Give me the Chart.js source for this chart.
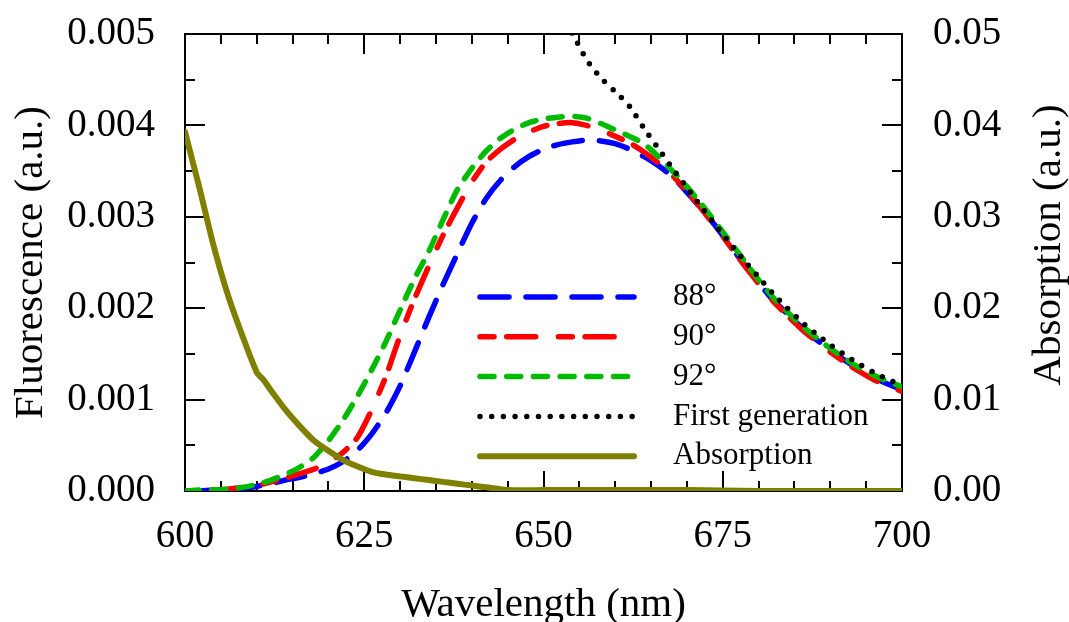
<!DOCTYPE html>
<html><head><meta charset="utf-8">
<script src="https://cdn.jsdelivr.net/npm/chart.js@4.4.1/dist/chart.umd.min.js"></script>
<style>html,body{margin:0;padding:0;background:#fff;overflow:hidden}canvas{display:block}</style>
</head><body>
<canvas id="c" width="1069" height="622"></canvas>
<script>
// ---- data ----
const wavelengths = [600,602,604,606,608,610,612,614,616,618,620,622,624,626,628,630,632,634,636,638,640,642,644,646,648,650,652,654,656,658,660,662,664,666,668,670,672,674,676,678,680,682,684,686,688,690,692,694,696,698,700];
const fl88 = [0,0,0.00001,0.00002,0.00003,0.00005,0.00008,0.00012,0.00015,0.00019,0.00024,0.00032,0.00044,0.00062,0.00085,0.00115,0.00152,0.00190,0.00226,0.00260,0.00293,0.00320,0.00340,0.00355,0.00366,0.00374,0.00379,0.00382,0.00384,0.00383,0.00380,0.00374,0.00366,0.00356,0.00344,0.00327,0.00309,0.00290,0.00269,0.00248,0.00228,0.00209,0.00194,0.00179,0.00166,0.00154,0.00143,0.00133,0.00124,0.00117,0.00111];
const fl90 = [0,0,0.00001,0.00002,0.00004,0.00006,0.00010,0.00014,0.00019,0.00024,0.00031,0.00042,0.00058,0.00088,0.00125,0.00170,0.00210,0.00246,0.00280,0.00310,0.00338,0.00360,0.00374,0.00385,0.00393,0.00399,0.00402,0.00403,0.00400,0.00395,0.00388,0.00381,0.00371,0.00359,0.00345,0.00328,0.00309,0.00289,0.00268,0.00247,0.00227,0.00208,0.00192,0.00177,0.00164,0.00152,0.00141,0.00131,0.00122,0.00115,0.00109];
const fl92 = [0,0.00001,0.00001,0.00002,0.00004,0.00007,0.00012,0.00018,0.00026,0.00037,0.00055,0.00077,0.00103,0.00132,0.00163,0.00198,0.00232,0.00262,0.00297,0.00330,0.00353,0.00372,0.00386,0.00396,0.00403,0.00407,0.00409,0.00410,0.00408,0.00402,0.00395,0.00388,0.00380,0.00366,0.00350,0.00333,0.00314,0.00294,0.00273,0.00252,0.00231,0.00212,0.00196,0.00181,0.00168,0.00156,0.00145,0.00135,0.00127,0.00120,0.00114];
const firstGenWavelengths = [654,656,658,660,662,664,666,668,670,672,674,676,678,680,682,684,686,688,690,692,694,696,698,700];
const firstGen = [0.00501,0.00472,0.00452,0.00437,0.00421,0.00397,0.00375,0.00353,0.00332,0.00311,0.00291,0.00271,0.00252,0.00234,0.00216,0.00200,0.00185,0.00172,0.00160,0.00149,0.00139,0.00130,0.00122,0.00116];
const absWavelengths = [600,602,604,606,608,610,611,612,614,616,618,620,622,624,626,628,630,632,634,636,638,640,642,645,650,660,670,680,690,700];
const absorption = [0.0393,0.0332,0.0268,0.0214,0.0170,0.0130,0.0121,0.0110,0.0089,0.0071,0.0055,0.0044,0.0034,0.0027,0.0021,0.0018,0.0016,0.0014,0.0012,0.0010,0.0008,0.0006,0.0004,0.0001,0.0001,0.0001,0.0001,0,0,0];
const seriesNames = ['88°','90°','92°','First generation','Absorption'];
const rightAxisTitle = 'Absorption (a.u.)';
const xTickStep = 25;
const leftTickStep = 0.001;
const rightTickStep = 0.01;

const FONT = "'Liberation Serif','Times New Roman',serif";
const pts = (xs, ys) => xs.map((x, i) => ({x, y: ys[i]}));

const styles = [
  {color:'#0000ff', dash:[29,17], width:5.5, order:4},
  {color:'#ff0000', dash:[14,12.7,29,22.7], width:5.5, order:3},
  {color:'#00bb00', dash:[14,12.7], width:5.5, order:2},
  {color:'#000000', dash:[0,11.7], width:5.5, order:0},
  {color:'#808000', dash:[], width:6, order:1}
];
const seriesData = [pts(wavelengths, fl88), pts(wavelengths, fl90), pts(wavelengths, fl92), pts(firstGenWavelengths, firstGen), pts(absWavelengths, absorption)];

const datasets = seriesNames.map((name, i) => ({
  label: name,
  data: seriesData[i],
  yAxisID: i === 4 ? 'y2' : 'y',
  borderColor: styles[i].color,
  borderWidth: styles[i].width,
  borderDash: styles[i].dash,
  borderCapStyle: 'round',
  borderJoinStyle: 'round',
  pointRadius: 0,
  fill: false,
  tension: 0.2,
  order: styles[i].order
}));

function noPad(s) { s.paddingTop = 0; s.paddingBottom = 0; s.paddingLeft = 0; s.paddingRight = 0; }

const frameTicks = {
  id: 'frameTicks',
  beforeDatasetsDraw(chart) {
    const {ctx, chartArea: a, scales} = chart;
    ctx.save();
    ctx.strokeStyle = '#000';
    ctx.lineWidth = 2;
    ctx.lineCap = 'butt';
    ctx.beginPath();
    for (let i = 0; i <= 20; i++) {
      const v = 600 + i * 5;
      const px = Math.round(scales.x.getPixelForValue(v));
      const len = (v % xTickStep === 0) ? 20 : 10;
      ctx.moveTo(px, a.bottom); ctx.lineTo(px, a.bottom - len);
      ctx.moveTo(px, a.top); ctx.lineTo(px, a.top + len);
    }
    for (let i = 0; i <= 10; i++) {
      const pl = Math.round(scales.y.getPixelForValue(i * leftTickStep / 2));
      const len = (i % 2 === 0) ? 20 : 10;
      ctx.moveTo(a.left, pl); ctx.lineTo(a.left + len, pl);
      const pr = Math.round(scales.y2.getPixelForValue(i * rightTickStep / 2));
      ctx.moveTo(a.right, pr); ctx.lineTo(a.right - len, pr);
    }
    ctx.stroke();
    ctx.strokeRect(a.left, a.top, a.right - a.left, a.bottom - a.top);
    ctx.restore();
  },
  afterDraw(chart) {
    const {ctx, chartArea: a} = chart;
    ctx.save();
    ctx.fillStyle = '#000';
    ctx.font = '41px ' + FONT;
    ctx.textAlign = 'center';
    ctx.textBaseline = 'middle';
    ctx.translate(1049, 245);
    ctx.rotate(-Math.PI / 2);
    ctx.fillText(rightAxisTitle, 0, 0);
    ctx.restore();

    const x0 = 480, x1 = 634, textX = 673, y0 = 297, dy = 39.8;
    ctx.save();
    chart.data.datasets.forEach((ds, i) => {
      const y = y0 + i * dy;
      ctx.beginPath();
      ctx.strokeStyle = ds.borderColor;
      ctx.lineWidth = ds.borderWidth;
      ctx.lineCap = 'round';
      ctx.setLineDash(ds.borderDash);
      ctx.moveTo(x0, y); ctx.lineTo(x1, y);
      ctx.stroke();
      ctx.setLineDash([]);
      ctx.fillStyle = '#000';
      ctx.font = '31px ' + FONT;
      ctx.textBaseline = 'middle';
      ctx.textAlign = 'left';
      ctx.fillText(ds.label, textX, y);
    });
    ctx.restore();
  }
};

new Chart(document.getElementById('c'), {
  type: 'line',
  data: {datasets},
  options: {
    responsive: false,
    animation: false,
    devicePixelRatio: 1,
    layout: {padding: {top: 34, left: 0, right: 0, bottom: 0}},
    plugins: {legend: {display: false}, tooltip: {enabled: false}},
    scales: {
      x: {
        type: 'linear', position: 'bottom', min: 600, max: 700,
        grid: {display: false}, border: {display: false},
        ticks: {stepSize: xTickStep, color: '#000', font: {family: FONT, size: 39}, padding: 14, maxRotation: 0, autoSkip: false},
        title: {display: true, text: 'Wavelength (nm)', color: '#000', font: {family: FONT, size: 41, lineHeight: 1}, padding: {top: 0, bottom: -4}},
        afterFit(s) { s.height = 131; noPad(s); }
      },
      y: {
        type: 'linear', position: 'left', min: 0, max: 0.005,
        grid: {display: false}, border: {display: false},
        ticks: {stepSize: leftTickStep, color: '#000', font: {family: FONT, size: 39}, padding: 22, callback: v => Number(v).toFixed(3)},
        title: {display: true, text: 'Fluorescence (a.u.)', color: '#000', font: {family: FONT, size: 41, lineHeight: 1}, padding: {top: 11, bottom: 0}},
        afterFit(s) { s.width = 185; noPad(s); }
      },
      y2: {
        type: 'linear', position: 'right', min: 0, max: 0.05,
        grid: {display: false}, border: {display: false},
        ticks: {stepSize: rightTickStep, color: '#000', font: {family: FONT, size: 39}, padding: 23, callback: v => Number(v).toFixed(2)},
        title: {display: false},
        afterFit(s) { s.width = 167; noPad(s); }
      }
    }
  },
  plugins: [frameTicks]
});
</script>
</body></html>
